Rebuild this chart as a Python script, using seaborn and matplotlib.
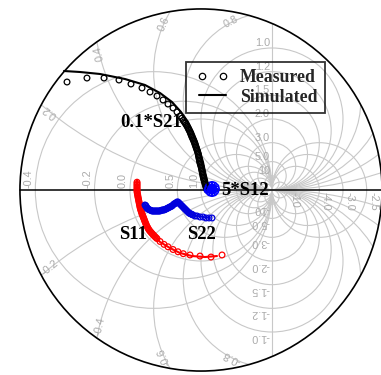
import matplotlib
matplotlib.use("Agg")
import matplotlib.pyplot as plt
from matplotlib.patches import Circle
from matplotlib.lines import Line2D
from matplotlib.legend_handler import HandlerLine2D
import numpy as np
import pandas as pd
import seaborn as sns

sns.set_theme(style="white")
plt.rcParams["font.family"] = ["DejaVu Sans"]

# ---- Smith chart grid values ----
r_left = [-0.4, -0.2, 0.0, 0.5, 1.0]          # labelled on the left of the real axis
r_inner = [2.0, 3.0, 5.0, 10.0]                # unlabelled circles near the open-circuit point
r_right = [-10.0, -4.0, -3.0, -2.5]            # negative resistance circles right of Γ = 1
x_arcs = [0.2, 0.4, 0.6, 0.8, 1.0, 1.2, 1.5, 2.0, 3.0, 5.0, 10.0]
rho_max = 2.55

# ---- 0.1*S21 ----
s21_meas_re = [-1.887, -1.606, -1.366, -1.155, -0.986, -0.831, -0.718, -0.620, -0.535, -0.465,
               -0.394, -0.338, -0.296, -0.270,
               -0.250, -0.236, -0.222, -0.209, -0.197, -0.186, -0.176, -0.166, -0.156, -0.148,
               -0.140, -0.132, -0.124, -0.115, -0.106, -0.097, -0.090, -0.083, -0.076, -0.069,
               -0.062, -0.055, -0.048, -0.042, -0.038, -0.034, -0.030, -0.026, -0.022, -0.018,
               -0.014, -0.008, -0.002, 0.004, 0.008, 0.012, 0.016, 0.020, 0.024, 0.028,
               0.032, 0.037, 0.042, 0.048, 0.054, 0.060, 0.065, 0.070, 0.076, 0.085]
s21_meas_im = [1.521, 1.577, 1.577, 1.549, 1.493, 1.437, 1.380, 1.324, 1.268, 1.211,
               1.155, 1.099, 1.042, 1.010,
               0.98, 0.96, 0.94, 0.92, 0.90, 0.88, 0.86, 0.84, 0.82, 0.80,
               0.78, 0.76, 0.74, 0.72, 0.70, 0.68, 0.66, 0.64, 0.62, 0.60,
               0.58, 0.56, 0.54, 0.52, 0.50, 0.48, 0.46, 0.44, 0.42, 0.40,
               0.38, 0.36, 0.34, 0.32, 0.30, 0.28, 0.26, 0.24, 0.22, 0.20,
               0.18, 0.16, 0.14, 0.12, 0.10, 0.08, 0.06, 0.04, 0.02, 0.00]
s21_sim_re = [-1.930, -1.704, -1.423, -1.070, -0.789, -0.577, -0.408, -0.282, -0.183,
              -0.113, -0.056, -0.014, 0.028, 0.056, 0.085, 0.099, 0.085]
s21_sim_im = [1.676, 1.662, 1.634, 1.563, 1.479, 1.366, 1.239, 1.099, 0.958,
              0.817, 0.676, 0.535, 0.394, 0.254, 0.141, 0.056, 0.000]

# ---- 5*S12 (tightly curled trace) ----
s12_meas_re = [0.085, 0.103, 0.125, 0.155, 0.185, 0.207, 0.218, 0.210, 0.185, 0.155,
               0.125, 0.100, 0.092, 0.125, 0.140, 0.170, 0.185, 0.170, 0.140, 0.155]
s12_meas_im = [0.000, -0.020, -0.042, -0.050, -0.042, -0.018, 0.014, 0.046, 0.070, 0.078,
               0.070, 0.046, 0.014, 0.014, -0.012, -0.012, 0.014, 0.040, 0.040, 0.014]
s12_sim_re = [0.085, 0.113, 0.155, 0.200, 0.214, 0.192, 0.150, 0.108, 0.098]
s12_sim_im = [0.000, -0.032, -0.044, -0.022, 0.020, 0.062, 0.072, 0.050, 0.014]

# ---- S11 ----
s11_meas_re = [-0.901, -0.901, -0.901, -0.901, -0.901, -0.901, -0.901, -0.900, -0.896, -0.892,
               -0.889, -0.885, -0.881, -0.877, -0.873, -0.869, -0.865, -0.861, -0.857, -0.852,
               -0.846, -0.839, -0.833, -0.826, -0.818, -0.810, -0.802, -0.795, -0.787, -0.779,
               -0.771, -0.762, -0.750, -0.740,
               -0.730, -0.718, -0.705, -0.692, -0.678, -0.664, -0.650, -0.635, -0.620,
               -0.577, -0.521, -0.465, -0.394, -0.324, -0.250, -0.155, -0.014, 0.141, 0.296]
s11_meas_im = [0.11, 0.09, 0.07, 0.05, 0.03, 0.01, -0.01, -0.03, -0.05, -0.07,
               -0.09, -0.11, -0.13, -0.15, -0.17, -0.19, -0.21, -0.23, -0.25, -0.27,
               -0.29, -0.31, -0.33, -0.35, -0.37, -0.39, -0.41, -0.43, -0.45, -0.47,
               -0.49, -0.51, -0.53, -0.55,
               -0.565, -0.580, -0.595, -0.610, -0.625, -0.640, -0.655, -0.670, -0.684,
               -0.725, -0.766, -0.800, -0.838, -0.870, -0.897, -0.915, -0.930, -0.944, -0.915]
s11_sim_re = [-0.901, -0.901, -0.873, -0.831, -0.775, -0.690, -0.577, -0.437, -0.296,
              -0.127, 0.056, 0.225]
s11_sim_im = [0.141, 0.000, -0.169, -0.338, -0.479, -0.620, -0.732, -0.817, -0.887,
              -0.930, -0.944, -0.930]

# ---- S22 ----
s22_meas_re = [-0.789, -0.782, -0.775, -0.768, -0.761, -0.754, -0.746, -0.732, -0.718, -0.704,
               -0.690, -0.676, -0.662, -0.648, -0.634, -0.620, -0.606, -0.592, -0.577, -0.563,
               -0.549, -0.535, -0.521, -0.507, -0.493, -0.479, -0.465, -0.451, -0.437, -0.423,
               -0.408, -0.394, -0.380, -0.366, -0.352, -0.338, -0.324, -0.310, -0.296, -0.282,
               -0.268, -0.254, -0.239, -0.225, -0.211, -0.197, -0.183, -0.169, -0.155, -0.141,
               -0.127, -0.113, -0.085, -0.056, -0.014, 0.028, 0.070, 0.113, 0.155]
s22_meas_im = [-0.211, -0.218, -0.225, -0.240, -0.254, -0.261, -0.268, -0.275, -0.282, -0.289,
               -0.296, -0.296, -0.296, -0.296, -0.296, -0.296, -0.296, -0.296, -0.296, -0.289,
               -0.282, -0.282, -0.282, -0.275, -0.268, -0.261, -0.254, -0.246, -0.239, -0.232,
               -0.225, -0.211, -0.197, -0.190, -0.183, -0.169, -0.169, -0.183, -0.197, -0.211,
               -0.225, -0.239, -0.254, -0.268, -0.282, -0.296, -0.310, -0.324, -0.331, -0.338,
               -0.345, -0.352, -0.366, -0.366, -0.380, -0.380, -0.394, -0.394, -0.394]
s22_sim_re = [-0.789, -0.746, -0.690, -0.606, -0.521, -0.437, -0.380, -0.338, -0.296,
              -0.225, -0.169, -0.113, -0.056, 0.028, 0.127]
s22_sim_im = [-0.211, -0.268, -0.296, -0.296, -0.282, -0.239, -0.197, -0.169, -0.197,
              -0.268, -0.324, -0.352, -0.366, -0.380, -0.394]

GRID = "#c8c8c8"
GRID_TXT = "#aaaaaa"
SERIF = ["Liberation Serif", "DejaVu Serif"]
SANS = ["Liberation Sans", "DejaVu Sans"]

fig = plt.figure(figsize=(3.81, 3.75), dpi=100)
ax = fig.add_axes([0, 0, 1, 1])
unit = 71.0
ax.set_xlim(-201 / unit, 180 / unit)
ax.set_ylim(-185 / unit, 190 / unit)
ax.set_aspect("equal")
ax.axis("off")

clip = Circle((0, 0), rho_max, transform=ax.transData)

def grid_circle(cx, cy, rad):
    p = Circle((cx, cy), rad, fill=False, ec=GRID, lw=0.8, zorder=1)
    ax.add_patch(p)
    p.set_clip_path(clip)

# constant resistance circles
for r in r_left + r_inner + r_right:
    grid_circle(r / (1 + r), 0.0, 1 / abs(1 + r))
# r = -1 degenerates to the line Re(Γ) = 1
vline, = ax.plot([1, 1], [-3, 3], color=GRID, lw=0.8, zorder=1)
vline.set_clip_path(clip)

# constant reactance circles (both signs)
for xv in x_arcs:
    grid_circle(1.0, 1 / xv, 1 / xv)
    grid_circle(1.0, -1 / xv, 1 / xv)

def fmt(v):
    return f"{v:.0f}" if abs(v) >= 10 else f"{v:.1f}"

lab_kw = dict(color=GRID_TXT, fontsize=7.8, family=SANS, zorder=2)
for r in r_left:
    g = (r - 1) / (r + 1)
    ax.text(g - 0.03, 0.03, fmt(r), rotation=90, ha="right", va="bottom", **lab_kw)
for r in r_right:
    g = (r - 1) / (r + 1)
    ax.text(g + 0.02, -0.03, fmt(r), rotation=-90, ha="left", va="top", **lab_kw)

r_lab = 2.4
for xv in x_arcs:
    if 2 / xv < 2.3:
        ax.text(0.97, 2 / xv, fmt(xv), ha="right", va="bottom", **lab_kw)
        ax.text(0.97, -2 / xv, fmt(-xv), rotation=180, ha="right", va="top", **lab_kw)
    else:
        c = np.array([1.0, 1 / xv])
        rho = 1 / xv
        d = np.hypot(*c)
        a = (r_lab**2 - rho**2 + d**2) / (2 * d)
        h = np.sqrt(r_lab**2 - a**2)
        u = c / d
        perp = np.array([-u[1], u[0]])
        p = a * u + h * perp
        rv = p - c
        t = np.array([-rv[1], rv[0]])
        if np.dot(t, p) < 0:
            t = -t
        ang = np.degrees(np.arctan2(t[1], t[0]))
        ax.text(p[0], p[1], fmt(xv), rotation=ang, ha="center", va="center",
                rotation_mode="anchor", **lab_kw)
        ax.text(p[0], -p[1], fmt(-xv), rotation=180 - ang, ha="center", va="center",
                rotation_mode="anchor", **lab_kw)

# outer boundary and real axis
ax.add_patch(Circle((0, 0), rho_max, fill=False, ec="black", lw=1.2, zorder=3))
ax.plot([-rho_max, rho_max], [0, 0], color="black", lw=1.1, zorder=3)

def series(meas_re, meas_im, sim_re, sim_im, color):
    dm = pd.DataFrame({"re": meas_re, "im": meas_im})
    ds = pd.DataFrame({"re": sim_re, "im": sim_im})
    sns.scatterplot(data=dm, x="re", y="im", ax=ax, marker="o", s=17, zorder=4,
                    legend=False)
    coll = ax.collections[-1]
    coll.set_facecolor("none")
    coll.set_edgecolor(color)
    coll.set_linewidth(0.9)
    sns.lineplot(data=ds, x="re", y="im", ax=ax, sort=False, estimator=None,
                 color=color, lw=1.5, zorder=5, legend=False)

series(s21_meas_re, s21_meas_im, s21_sim_re, s21_sim_im, "black")
series(s12_meas_re, s12_meas_im, s12_sim_re, s12_sim_im, "#0000ff")
series(s11_meas_re, s11_meas_im, s11_sim_re, s11_sim_im, "#ff0000")
series(s22_meas_re, s22_meas_im, s22_sim_re, s22_sim_im, "#0000dd")

txt_kw = dict(family=SERIF, fontweight="bold", fontsize=13.5, color="black", zorder=6)
ax.text(-0.70, 0.944, "0.1*S21", ha="center", va="center", **txt_kw)
ax.text(0.29, -0.014, "5*S12", ha="left", va="center", **txt_kw)
ax.text(-0.958, -0.62, "S11", ha="center", va="center", **txt_kw)
ax.text(0.0, -0.62, "S22", ha="center", va="center", **txt_kw)

meas_handle = Line2D([], [], ls="none", marker="o", mfc="none", mec="black", ms=4.6, mew=0.9)
sim_handle = Line2D([], [], color="black", lw=1.5)
leg = ax.legend([meas_handle, sim_handle], ["Measured", "Simulated"], loc="upper left",
                bbox_to_anchor=(186 / 381, 1 - 62 / 375), bbox_transform=ax.transAxes,
                numpoints=2, frameon=True, fancybox=False, borderaxespad=0,
                prop={"family": SERIF, "weight": "bold", "size": 12.8},
                handlelength=2.15, handletextpad=0.45, labelspacing=0.12,
                borderpad=0.42,
                handler_map={meas_handle: HandlerLine2D(marker_pad=0.5)})
leg.get_frame().set_edgecolor("black")
leg.get_frame().set_linewidth(1.3)
leg.get_frame().set_facecolor("none")
leg.set_zorder(7)

fig.savefig("out.png", dpi=100)
